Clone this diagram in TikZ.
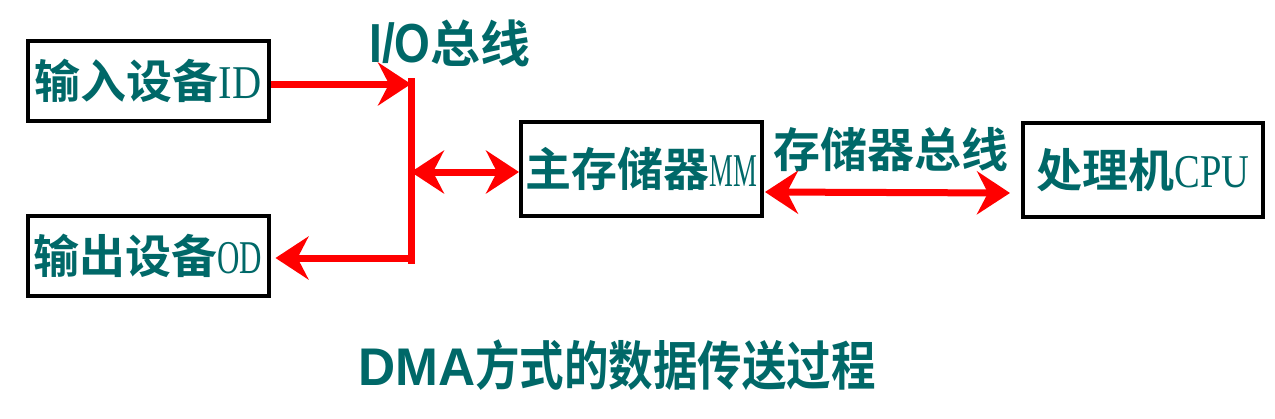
\documentclass[tikz,border=0pt]{standalone}
\usepackage{fontspec}
\usepackage{xcolor}
\usepackage{graphicx}
\usepackage{tikz}
\usetikzlibrary{arrows.meta}
\newfontfamily\cjk{Noto Sans CJK SC}[UprightFont=* Bold]
\newfontfamily\enserif{Liberation Serif}
\newfontfamily\headsans{Liberation Sans}[UprightFont=* Bold]
\definecolor{dmateal}{RGB}{0,104,104}
\newcommand{\zh}[1]{{\cjk #1}}
\newcommand{\en}[2]{\scalebox{#1}[1]{\fontsize{47}{50}\selectfont\enserif #2}}

\begin{document}
\begin{tikzpicture}[x=1pt, y=-1pt,
    unit/.style={draw=black, line width=4pt, minimum width=241, text=dmateal,
      font=\fontsize{46}{50}\selectfont, inner sep=0pt},
    busline/.style={draw=red, line width=7pt},
    bustip/.style={-{Stealth[length=33pt, width=43pt, inset=11pt]}},
    bothtips/.style={{Stealth[length=33pt, width=43pt, inset=11pt]}-{Stealth[length=33pt, width=43pt, inset=11pt]}},
    title/.style={text=dmateal, font=\fontsize{50}{54}\selectfont, inner sep=0pt}]
    \useasboundingbox (0,0) rectangle (1275,418);
    \node[unit, minimum height=80] (id) at (148,81) {\zh{输入设备}\en{0.86}{ID}};
    \node[unit, minimum height=80] (od) at (148,256) {\zh{输出设备}\en{0.66}{OD}};
    \node[unit, minimum height=94] (mm) at (641.5,169) {\zh{主存储器}\en{0.57}{MM}};
    \node[unit, minimum height=94, minimum width=240] (cpu) at (1143,170) {\zh{处理机}\en{0.82}{CPU}};
    \coordinate (bustop) at (411,78);
    \coordinate (busbot) at (411,264);
    \node[title] (iobus) at (450,43) {\scalebox{0.92}[1.1]{\headsans I/O}\zh{总线}};
    \node[title, font=\fontsize{47}{50}\selectfont] (membus) at (891,150) {\zh{存储器总线}};
    \node[title, font=\fontsize{53}{56}\selectfont] (caption) at (617,365) {\scalebox{0.97}[1]{\headsans DMA}\scalebox{0.84}[1]{\zh{方式的数据传送过程}}};
    \draw[busline] (bustop) -- (busbot);
    \draw[busline, bustip] ([yshift=-3pt]id.east) -- ([yshift=-3pt]id.east -| bustop);
    \draw[busline, bustip] ([yshift=-2pt]od.east -| bustop) -- ([xshift=5pt, yshift=-2pt]od.east);
    \draw[busline, bothtips] ([yshift=-3pt]mm.west -| bustop) -- ([yshift=-3pt]mm.west);
    \draw[busline, bothtips] ([yshift=-23pt, xshift=1pt]mm.east) -- ([yshift=-23pt, xshift=-11pt]cpu.west);
\end{tikzpicture}
\end{document}
